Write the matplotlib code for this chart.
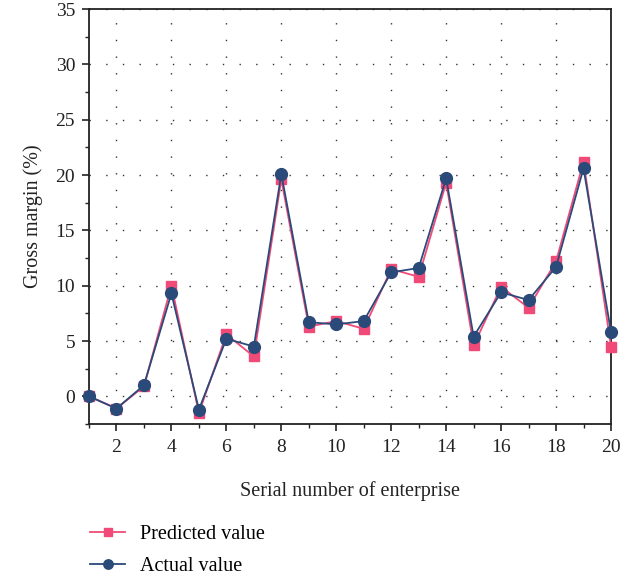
import matplotlib
matplotlib.use("Agg")
import matplotlib.pyplot as plt
from matplotlib.ticker import MultipleLocator

enterprise = list(range(1, 21))
predicted = [0.0, -1.1, 0.9, 10.0, -1.5, 5.6, 3.6, 19.6, 6.3, 6.8,
             6.1, 11.5, 10.8, 19.3, 4.6, 9.9, 8.0, 12.2, 21.2, 4.5]
actual = [0.0, -1.1, 1.0, 9.3, -1.2, 5.2, 4.5, 20.1, 6.7, 6.5,
          6.8, 11.2, 11.6, 19.7, 5.4, 9.4, 8.7, 11.7, 20.6, 5.8]
xlabel = "Serial number of enterprise"
ylabel = "Gross margin (%)"
labels = ["Predicted value", "Actual value"]

plt.rcParams['font.family'] = ['Liberation Serif', 'DejaVu Serif']

fig = plt.figure(figsize=(6.37, 5.77), dpi=100)
ax = fig.add_axes([89/637, 1-424/577, (611-89)/637, (424-9)/577])

pink = '#F04A78'
blue = '#2A4A7A'
l1, = ax.plot(enterprise, predicted, color=pink, lw=1.3, marker='s', ms=7.5,
              mec=pink, mfc=pink, zorder=3, clip_on=False)
l2, = ax.plot(enterprise, actual, color=blue, lw=1.3, marker='o', ms=8.5,
              mec=blue, mfc=blue, zorder=4, clip_on=False)

ax.set_xlim(1, 20)
ax.set_ylim(-2.5, 35)
ax.xaxis.set_major_locator(MultipleLocator(2))
ax.xaxis.set_minor_locator(MultipleLocator(1))
ax.yaxis.set_major_locator(MultipleLocator(5))
ax.yaxis.set_minor_locator(MultipleLocator(2.5))
ax.tick_params(axis='both', which='major', direction='out', length=5, width=1.2,
               labelsize=14, colors='#222222', labelcolor='#222222')
ax.tick_params(axis='x', which='major', pad=6)
ax.tick_params(axis='y', which='major', pad=5)
ax.tick_params(axis='both', which='minor', direction='out', length=3, width=1.0,
               colors='#222222')
ax.tick_params(top=False, right=False, which='both')
for s in ax.spines.values():
    s.set_linewidth(1.3)
    s.set_color('#222222')

ax.grid(True, which='major', linestyle=(0, (1, 11)), color='#333333', lw=1.0)

ax.set_xlabel(xlabel, fontsize=14.5, color='#222222', labelpad=18)
ax.set_ylabel(ylabel, fontsize=14.5, color='#222222', labelpad=9)

fig.legend([l1, l2], labels, loc='upper left', bbox_to_anchor=(82/637, 1-517/577),
           frameon=False, fontsize=14.5, handlelength=1.75, labelspacing=0.65,
           borderaxespad=0, handletextpad=0.75, markerscale=0.8)

fig.savefig("out.png", dpi=100)
